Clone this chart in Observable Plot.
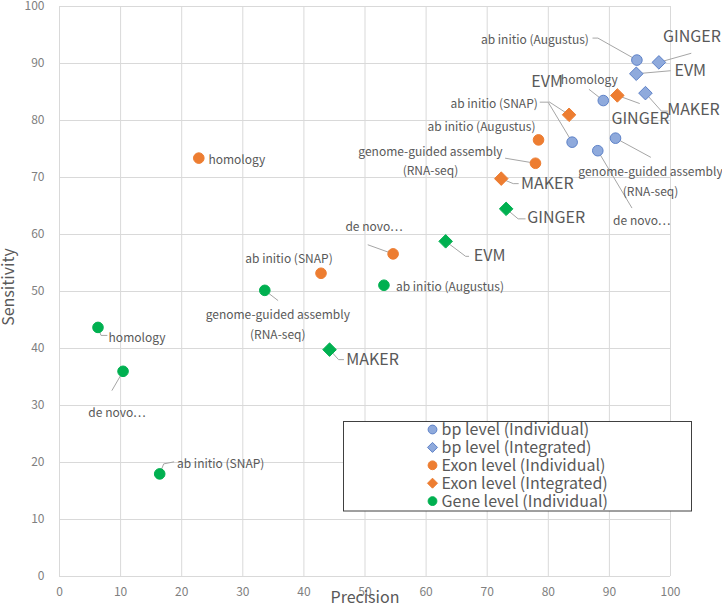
<!DOCTYPE html>
<html>
<head>
<meta charset="utf-8">
<script src="https://cdn.jsdelivr.net/npm/d3@7"></script>
<script src="https://cdn.jsdelivr.net/npm/@observablehq/plot@0.6"></script>
<style>
  body { margin: 0; background: #fff; }
  #wrap { position: relative; width: 722px; height: 605px; font-family: "Noto Sans CJK JP", "Noto Sans", sans-serif; }
  #overlay { position: absolute; left: 0; top: 0; pointer-events: none; }
</style>
</head>
<body>
<div id="wrap"></div>
<script>
// ---------------- data ----------------
const individualMethods = ["ab initio (Augustus)", "homology", "ab initio (SNAP)", "genome-guided assembly\n(RNA-seq)", "de novo⋯"];
const integratedMethods = ["GINGER", "EVM", "MAKER"];

const bpIndividualPrecision     = [94.5, 89.0, 83.9, 91.0, 88.1];
const bpIndividualSensitivity   = [90.6, 83.5, 76.2, 76.9, 74.7];
const bpIntegratedPrecision     = [98.1, 94.4, 95.9];
const bpIntegratedSensitivity   = [90.2, 88.2, 84.8];
const exonIndividualPrecision   = [78.4, 22.8, 42.8, 77.9, 54.6];
const exonIndividualSensitivity = [76.6, 73.4, 53.2, 72.5, 56.6];
const exonIntegratedPrecision   = [91.3, 83.4, 72.3];
const exonIntegratedSensitivity = [84.4, 81.0, 69.8];
const geneIndividualPrecision   = [53.1, 6.3, 16.4, 33.6, 10.4];
const geneIndividualSensitivity = [51.1, 43.7, 18.0, 50.2, 36.0];
const geneIntegratedPrecision   = [73.1, 63.2, 44.2];
const geneIntegratedSensitivity = [64.5, 58.8, 39.8];

const xTicks = [0, 10, 20, 30, 40, 50, 60, 70, 80, 90, 100];
const yTicks = [0, 10, 20, 30, 40, 50, 60, 70, 80, 90, 100];
const legendLabels = ["bp level (Individual)", "bp level (Integrated)", "Exon level (Individual)", "Exon level (Integrated)", "Gene level (Individual)"];

// ---------------- styles ----------------
const fills   = { bp: "#8FAADC", Exon: "#ED7D31", Gene: "#00B050" };
const strokes = { bp: "#5E82C8", Exon: "#ED7D31", Gene: "#00B050" };
const W = 722, H = 605, ML = 59, MR = 52, MT = 6, MB = 29;
const kx = 100 / (W - ML - MR), ky = 100 / (H - MT - MB);

// label offsets (pixels) and leader-line bends (pixels) relative to each marker
const layout = {
  "bp|ab initio (Augustus)": { t: [-102, -22], k: [[-39, -22], [-44, -22]] },
  "bp|homology": { t: [-14, -23], k: [[-14, -11]] },
  "bp|ab initio (SNAP)": { t: [-78, -40], k: [[-24, -40], [-32, -40]] },
  "bp|genome-guided assembly\n(RNA-seq)": { t: [35, 41.5], k: [[35, 19]] },
  "bp|de novo⋯": { t: [44, 68], k: [[34, 57]] },
  "bp|GINGER": { t: [33, -25], k: [[32, -9]] },
  "bp|EVM": { t: [54, -3], k: [[34, -3]] },
  "bp|MAKER": { t: [48, 17], k: [[16, 18], [22, 18]] },
  "Exon|ab initio (Augustus)": { t: [-57, -15] },
  "Exon|genome-guided assembly\n(RNA-seq)": { t: [-105, -4], k: [[-30, -5]] },
  "Exon|homology": { t: [38, 0] },
  "Exon|de novo⋯": { t: [-19, -29], k: [[-25, -9]] },
  "Exon|ab initio (SNAP)": { t: [-32, -16] },
  "Exon|GINGER": { t: [23, 23], k: [[22, 8]] },
  "Exon|EVM": { t: [-22, -33], k: [[-20, -13]] },
  "Exon|MAKER": { t: [46, 5], k: [[12, 5], [17, 5]] },
  "Gene|ab initio (Augustus)": { t: [66, 0] },
  "Gene|homology": { t: [39, 8], k: [[3, 8], [9, 8]] },
  "Gene|ab initio (SNAP)": { t: [61, -12], k: [[4, -10], [14, -12]] },
  "Gene|genome-guided assembly\n(RNA-seq)": { t: [13, 32.5], k: [[13, 10]] },
  "Gene|de novo⋯": { t: [-6, 39], k: [[-11, 19]] },
  "Gene|GINGER": { t: [50, 9], k: [[12, 10], [19, 10]] },
  "Gene|EVM": { t: [44, 15], k: [[20, 15], [23, 15]] },
  "Gene|MAKER": { t: [43, 10], k: [[9, 10], [14, 10]] }
};

// ---------------- table ----------------
const series = [
  { level: "bp", kind: "Individual", names: individualMethods, px: bpIndividualPrecision, py: bpIndividualSensitivity },
  { level: "bp", kind: "Integrated", names: integratedMethods, px: bpIntegratedPrecision, py: bpIntegratedSensitivity },
  { level: "Exon", kind: "Individual", names: individualMethods, px: exonIndividualPrecision, py: exonIndividualSensitivity },
  { level: "Exon", kind: "Integrated", names: integratedMethods, px: exonIntegratedPrecision, py: exonIntegratedSensitivity },
  { level: "Gene", kind: "Individual", names: individualMethods, px: geneIndividualPrecision, py: geneIndividualSensitivity },
  { level: "Gene", kind: "Integrated", names: integratedMethods, px: geneIntegratedPrecision, py: geneIntegratedSensitivity }
];
const points = series.flatMap(s => s.names.map((name, i) => ({
  level: s.level, kind: s.kind, name, precision: s.px[i], sensitivity: s.py[i],
  key: s.level + "|" + name
})));
const leaders = points.flatMap((p, j) => {
  const L = layout[p.key];
  if (!L || !L.k) return [];
  return [[0, 0], ...L.k].map(([dx, dy]) => ({ id: j, x: p.precision + dx * kx, y: p.sensitivity - dy * ky }));
});
const lx = d => d.precision + layout[d.key].t[0] * kx;
const ly = d => d.sensitivity - layout[d.key].t[1] * ky;

// ---------------- marks ----------------
const markMarks = series.map(s => {
  const rows = points.filter(p => p.level === s.level && p.kind === s.kind);
  return Plot.dot(rows, {
    x: "precision", y: "sensitivity",
    symbol: s.kind === "Individual" ? "circle" : "diamond2",
    r: s.kind === "Individual" ? 5.3 : 6.1,
    fill: fills[s.level], stroke: strokes[s.level], strokeWidth: 1
  });
});

const chart = Plot.plot({
  width: W, height: H,
  marginLeft: ML, marginRight: MR, marginTop: MT, marginBottom: MB,
  style: { fontFamily: '"Noto Sans CJK JP", "Noto Sans", sans-serif', fontSize: "12px", color: "#808080", background: "white", overflow: "visible" },
  x: { domain: [0, 100], ticks: xTicks, tickSize: 0, tickPadding: 11, label: null },
  y: { domain: [0, 100], ticks: yTicks, tickSize: 0, tickPadding: 15, label: null },
  marks: [
    Plot.ruleX(xTicks, { stroke: "#d9d9d9", strokeWidth: 1 }),
    Plot.ruleY(yTicks, { stroke: "#d9d9d9", strokeWidth: 1 }),
    Plot.line(leaders, { x: "x", y: "y", z: "id", stroke: "#a6a6a6", strokeWidth: 1, curve: "linear" }),
    ...markMarks,
    Plot.text(points.filter(p => p.kind === "Individual"), {
      x: lx, y: ly, text: "name", fontSize: 12, fill: "#595959", textAnchor: "middle", lineAnchor: "middle", lineHeight: 1.62
    }),
    Plot.text(points.filter(p => p.kind === "Integrated"), {
      x: lx, y: ly, text: "name", fontSize: 16, fill: "#595959", textAnchor: "middle", lineAnchor: "middle"
    })
  ]
});
document.getElementById("wrap").appendChild(chart);

// ---------------- overlay: axis titles + legend ----------------
const svg = d3.select("#wrap").append("svg").attr("id", "overlay").attr("width", W).attr("height", H)
  .style("font-family", '"Noto Sans CJK JP", "Noto Sans", sans-serif');
svg.append("text").attr("x", 365).attr("y", 603).attr("text-anchor", "middle")
  .attr("font-size", 16).attr("fill", "#595959").text("Precision");
svg.append("text").attr("transform", "translate(14,287) rotate(-90)").attr("text-anchor", "middle")
  .attr("font-size", 16).attr("fill", "#595959").text("Sensitivity");

svg.append("rect").attr("x", 343.5).attr("y", 421.5).attr("width", 348).attr("height", 89.5)
  .attr("fill", "white").attr("stroke", "#404040").attr("stroke-width", 1);
const legendKeys = [["bp", "circle"], ["bp", "diamond"], ["Exon", "circle"], ["Exon", "diamond"], ["Gene", "circle"]];
legendLabels.forEach((lab, i) => {
  const cy = 429.5 + 17.9 * i, cx = 432.5;
  const [lvl, shape] = legendKeys[i];
  if (shape === "circle") {
    svg.append("circle").attr("cx", cx).attr("cy", cy).attr("r", 4.4)
      .attr("fill", fills[lvl]).attr("stroke", strokes[lvl]).attr("stroke-width", 1);
  } else {
    const h = 5;
    svg.append("path").attr("d", `M${cx},${cy - h}L${cx + h},${cy}L${cx},${cy + h}L${cx - h},${cy}Z`)
      .attr("fill", fills[lvl]).attr("stroke", strokes[lvl]).attr("stroke-width", 1);
  }
  svg.append("text").attr("x", 441.5).attr("y", cy).attr("dy", "0.36em")
    .attr("font-size", 16).attr("fill", "#595959").text(lab);
});
</script>
</body>
</html>
